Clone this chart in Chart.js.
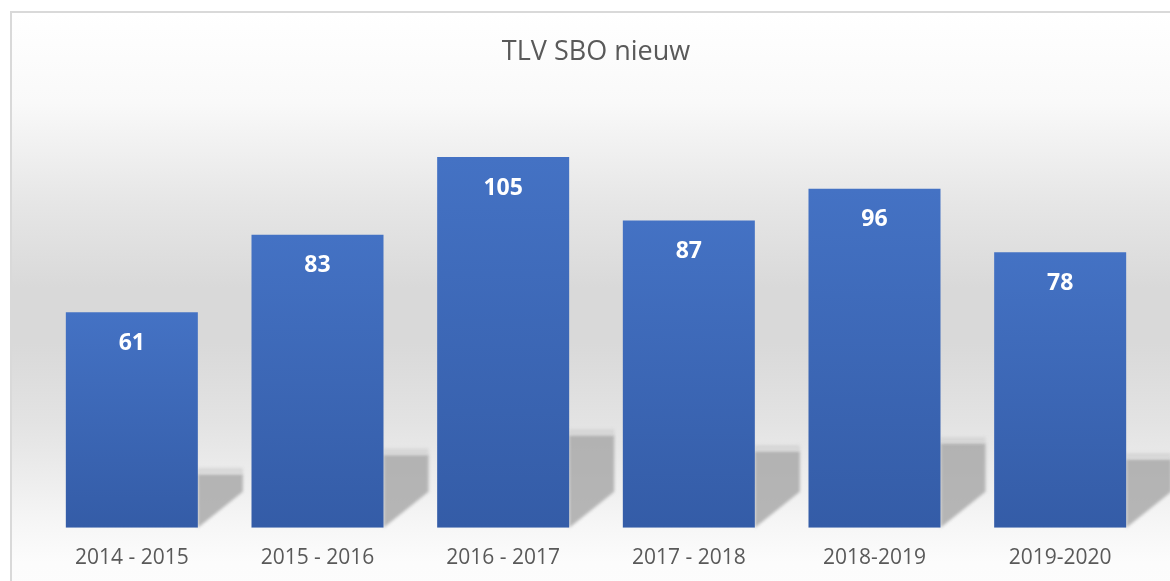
<!DOCTYPE html>
<html>
<head>
<meta charset="utf-8">
<script src="https://cdn.jsdelivr.net/npm/chart.js@4/dist/chart.umd.min.js"></script>
<style>
  html, body { margin: 0; padding: 0; background: #fff; overflow: hidden; }
  #frame {
    position: absolute; left: 10px; top: 11px; width: 1200px; height: 600px;
    border: 2px solid #d9d9d9;
    background: linear-gradient(to bottom,
      #ffffff 0px, #f9f9f9 90px, #e6e6e6 190px, #d9d9d9 275px, #d9d9d9 330px,
      #e3e3e3 410px, #ececec 460px, #f6f6f6 510px, #fcfcfc 550px, #fdfdfd 600px);
  }
  #wrap { position: absolute; left: 0; top: 0; width: 1170px; height: 600px; }
</style>
</head>
<body>
<div id="frame"></div>
<div id="wrap"><canvas id="chart"></canvas></div>
<script>
const categories = ["2014 - 2015", "2015 - 2016", "2016 - 2017", "2017 - 2018", "2018-2019", "2019-2020"];
const values = [61, 83, 105, 87, 96, 78];

// schaduw achter de balken, op de "vloer"
const barShadow = {
    id: 'barShadow',
    beforeDatasetsDraw(chart) {
        const ctx = chart.ctx;
        ctx.save();
        ctx.filter = 'blur(1.5px)';
        chart.getDatasetMeta(0).data.forEach(bar => {
            const right = bar.x + bar.width / 2;
            const h = bar.base - bar.y;
            const top = bar.base - h * 0.25;
            const w = 45;
            ctx.fillStyle = 'rgba(165,165,165,0.8)';
            ctx.beginPath();
            ctx.moveTo(right, top);
            ctx.lineTo(right + w, top);
            ctx.lineTo(right + w, bar.base - w * 0.8);
            ctx.lineTo(right, bar.base);
            ctx.closePath();
            ctx.fill();
            ctx.fillStyle = 'rgba(210,210,210,0.8)';
            ctx.fillRect(right, top - 6, w, 6);
        });
        ctx.restore();
    }
};

// waarden in de balk
const barLabels = {
    id: 'barLabels',
    afterDatasetsDraw(chart) {
        const ctx = chart.ctx;
        ctx.save();
        ctx.font = 'bold 23px "Open Sans"';
        ctx.fillStyle = '#ffffff';
        ctx.textAlign = 'center';
        ctx.textBaseline = 'middle';
        chart.getDatasetMeta(0).data.forEach((bar, i) => {
            ctx.fillText(values[i], bar.x, bar.y + 31);
        });
        ctx.restore();
    }
};

const ctx = document.getElementById('chart').getContext('2d');
const myChart = new Chart(ctx, {
    type: 'bar',
    data: {
        labels: categories,
        datasets: [{
            label: "TLV SBO nieuw",
            data: values,
            backgroundColor: (c) => {
                const chart = c.chart;
                if (!chart.chartArea || c.parsed === undefined) return '#4472c4';
                const y = chart.scales.y;
                const g = chart.ctx.createLinearGradient(0, y.getPixelForValue(c.parsed.y), 0, y.getPixelForValue(0));
                g.addColorStop(0, '#4472c4');
                g.addColorStop(1, '#345ca7');
                return g;
            },
            borderWidth: 0,
            categoryPercentage: 1,
            barPercentage: 0.711
        }]
    },
    options: {
        responsive: true,
        maintainAspectRatio: false,
        animation: false,
        layout: { padding: { left: 39, right: 17, top: 0, bottom: 11 } },
        plugins: {
            legend: { display: false },
            tooltip: { enabled: false },
            title: {
                display: true,
                text: 'TLV SBO nieuw',
                color: '#595959',
                font: { family: 'Open Sans', size: 27, weight: 'normal' },
                padding: { top: 36, bottom: 35.6 }
            }
        },
        scales: {
            x: {
                grid: { display: false, drawTicks: false },
                border: { display: false },
                ticks: {
                    color: '#595959',
                    font: { family: 'Open Sans', size: 21 },
                    padding: 18,
                    maxRotation: 0
                }
            },
            y: {
                display: false,
                min: 0,
                max: 120
            }
        }
    },
    plugins: [barShadow, barLabels]
});
</script>
</body>
</html>
